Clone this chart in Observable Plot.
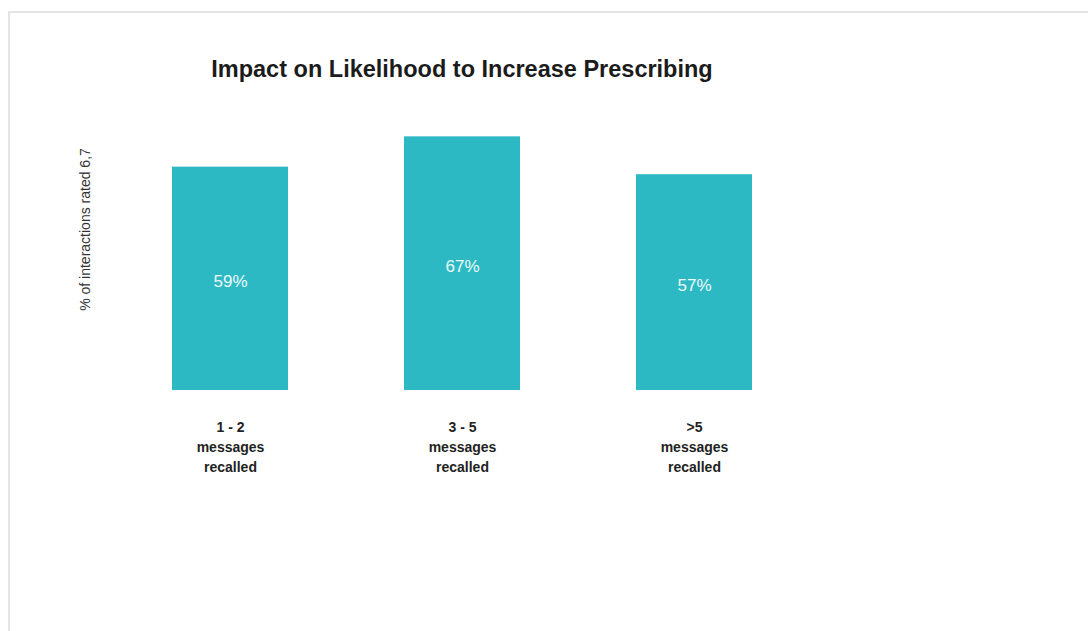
<!DOCTYPE html>
<html><head><meta charset="utf-8">
<script src="https://cdn.jsdelivr.net/npm/d3@7"></script>
<script src="https://cdn.jsdelivr.net/npm/@observablehq/plot@0.6"></script>
<style>
html,body{margin:0;padding:0;background:#fff;overflow:hidden;width:1088px;height:631px;}
#frame{position:absolute;left:8px;top:11px;width:1100px;height:640px;border-top:2px solid #e4e4e4;border-left:2px solid #e4e4e4;}
#title{position:absolute;left:0;top:58px;width:924px;text-align:center;font-weight:bold;font-size:23.5px;line-height:1;font-family:"Liberation Sans",Arial,sans-serif;color:#1b1b1b;}
#chart{position:absolute;left:0;top:100px;}
</style>
</head><body>
<div id="frame"></div>
<div id="title"></div>
<div id="chart"></div>
<script>
const title = "Impact on Likelihood to Increase Prescribing";
const categories = ["1 - 2", "3 - 5", ">5"];
const values = [59, 67, 57];
const valueLabels = ["59%", "67%", "57%"];
const subLabel = "messages\nrecalled";
const yLabel = "% of interactions rated 6,7";

document.getElementById("title").textContent = title;
const data = categories.map((c, i) => ({cat: c, value: values[i], label: valueLabels[i]}));

const chart = Plot.plot({
  width: 1088, height: 531,
  marginLeft: 55, marginRight: 219.5, marginTop: 25, marginBottom: 241,
  style: {fontFamily: "'Liberation Sans', Arial, sans-serif", background: "transparent", overflow: "visible"},
  x: {domain: categories, padding: 0.5},
  y: {domain: [0, 70], axis: null},
  marks: [
    Plot.barY(data, {x: "cat", y: "value", fill: "#2cb9c3"}),
    Plot.text(data, {x: "cat", y: d => d.value / 2, text: "label", fill: "#eef9fa", fontSize: 17, dy: 3}),
    Plot.axisX({tickSize: 0, tickPadding: 27, fontSize: 14, fontWeight: "bold", lineHeight: 20/14, fill: "#222", label: null,
      tickFormat: d => d + "\n" + subLabel}),
    Plot.text([yLabel], {frameAnchor: "top-left", textAnchor: "middle", lineAnchor: "middle", dx: 30, dy: 104, rotate: -90, fontSize: 14, fill: "#333", text: d => d})
  ]
});
document.getElementById("chart").appendChild(chart);
</script>
</body></html>
